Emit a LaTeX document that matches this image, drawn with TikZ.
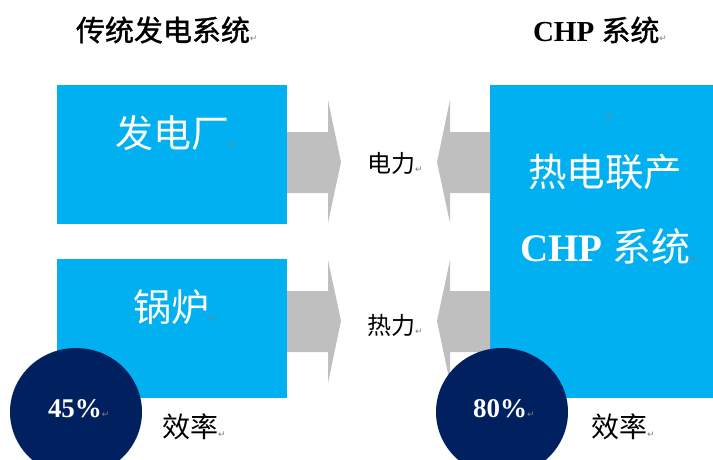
\documentclass[tikz,border=0pt]{standalone}
\usepackage{fontspec}
\setmainfont{Liberation Serif}
\newfontfamily\cjk{Noto Sans CJK SC}
\newfontfamily\cjkb[FakeBold=1.2]{Noto Sans CJK SC}
\newfontfamily\dv{DejaVu Sans}
\usetikzlibrary{shapes.geometric}
\definecolor{boxblue}{HTML}{00B0F0}
\definecolor{navy}{HTML}{002060}
\definecolor{arrowgray}{HTML}{BFBFBF}
\definecolor{markgray}{HTML}{808080}
\newcommand\pmark{{\dv\mdseries\fontsize{9}{9}\selectfont\color{markgray}↵}}
\newcommand\fs[1]{\fontsize{#1}{#1}\selectfont}
\tikzset{
  bluebox/.style={fill=boxblue, draw=none, inner sep=0pt, anchor=north west},
  ring/.style={ellipse, fill=navy, draw=none, minimum width=132pt, minimum height=128pt, inner sep=0pt},
  flow/.style={fill=arrowgray, draw=none},
  lbl/.style={anchor=west, inner sep=0pt, outer sep=0pt},
}
\begin{document}
\begin{tikzpicture}[x=1pt,y=-1pt]
\useasboundingbox (0,0) rectangle (713,459);
% boxes
\node[bluebox, minimum width=230pt, minimum height=139pt] (plant) at (57,85) {};
\node[bluebox, minimum width=230pt, minimum height=139pt] (boiler) at (57,259) {};
\node[bluebox, minimum width=223pt, minimum height=313pt] (chp) at (490,85) {};
% arrows
\fill[flow] (287,132) -- (328,132) -- (328,100) -- (341,162) -- (328,223) -- (328,193) -- (287,193) -- cycle;
\fill[flow] (287,291) -- (328,291) -- (328,260) -- (341,321) -- (328,383) -- (328,352) -- (287,352) -- cycle;
\fill[flow] (490,132) -- (450,132) -- (450,100) -- (437,162) -- (450,223) -- (450,193) -- (490,193) -- cycle;
\fill[flow] (490,291) -- (450,291) -- (450,260) -- (437,321) -- (450,383) -- (450,352) -- (490,352) -- cycle;
% circles
\node[ring] (eff1) at (76,412) {};
\node[ring] (eff2) at (502,412) {};
% titles
\node[lbl] (t1) at (76,30) {\cjkb\fs{29}传统发电系统\pmark};
\node[lbl] (t2) at (533,30) {\fs{29}{\bfseries CHP} {\cjkb 系统}\pmark};
% box labels
\node[lbl, text=white] (l1) at (115,133) {\cjk\fs{38}发电厂\pmark};
\node[lbl, text=white] (l2) at (133,307) {\cjk\fs{38}锅炉\pmark};
\node[lbl] (m0) at (606,118) {\pmark};
\node[lbl, text=white] (l3) at (528,172) {\cjk\fs{38.5}热电联产};
\node[lbl, text=white] (l4) at (520,247) {\fs{39}{\bfseries CHP} {\cjk 系统}\pmark};
% flow labels
\node[lbl] (f1) at (367,163) {\cjk\fs{24}电力\pmark};
\node[lbl] (f2) at (367,325) {\cjk\fs{24}热力\pmark};
% efficiency
\node[lbl, text=white] (p1) at (48,409) {\fs{27}\bfseries 45\%\pmark};
\node[lbl, text=white] (p2) at (473,409) {\fs{27}\bfseries 80\%\pmark};
\node[lbl] (e1) at (162,427) {\cjk\fs{28}效率\pmark};
\node[lbl] (e2) at (591,427) {\cjk\fs{28}效率\pmark};
\end{tikzpicture}
\end{document}
